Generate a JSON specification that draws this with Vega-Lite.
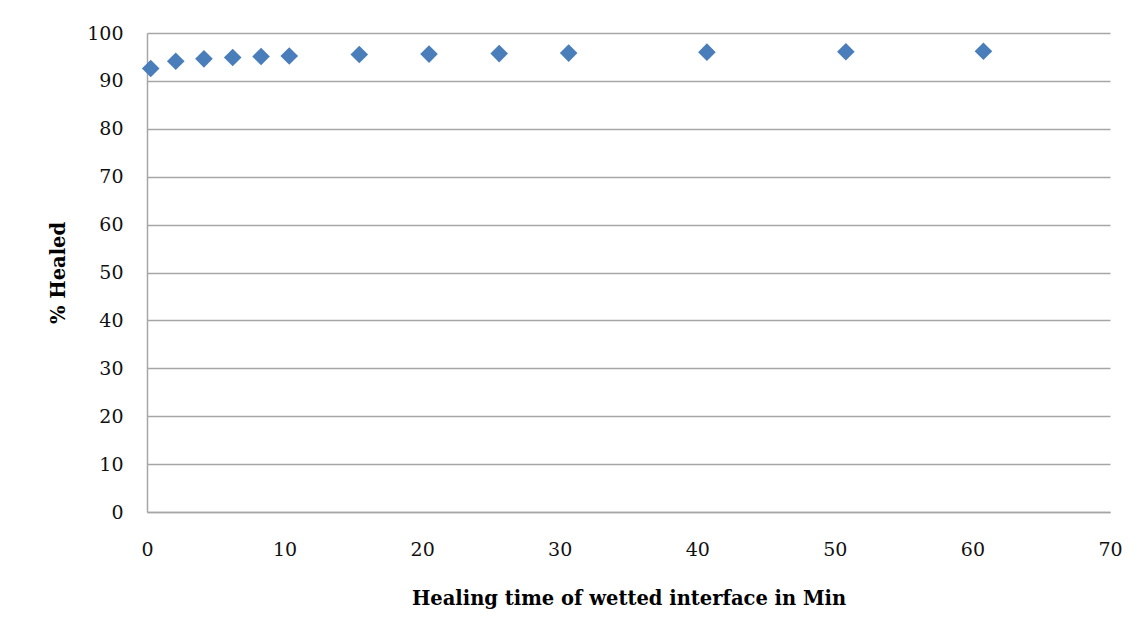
{
  "$schema": "https://vega.github.io/schema/vega-lite/v6.json",
  "width": 963,
  "height": 479,
  "autosize": "none",
  "padding": {"left": 147, "top": 33, "right": 32, "bottom": 129},
  "background": "white",
  "config": {"view": {"stroke": null}},
  "data": {
    "values": [
      {"time": 0.27, "healed": 92.6},
      {"time": 2.09, "healed": 94.1},
      {"time": 4.14, "healed": 94.6},
      {"time": 6.23, "healed": 94.9},
      {"time": 8.29, "healed": 95.1},
      {"time": 10.34, "healed": 95.2},
      {"time": 15.43, "healed": 95.5},
      {"time": 20.5, "healed": 95.6},
      {"time": 25.6, "healed": 95.7},
      {"time": 30.65, "healed": 95.8},
      {"time": 40.7, "healed": 96.0},
      {"time": 50.8, "healed": 96.1},
      {"time": 60.8, "healed": 96.2}
    ]
  },
  "mark": {"type": "point", "shape": "diamond", "filled": true, "size": 310, "color": "#4a7ebb", "opacity": 1},
  "encoding": {
    "x": {
      "field": "time",
      "type": "quantitative",
      "scale": {"domain": [0, 70], "nice": false, "zero": false},
      "axis": {
        "values": [0, 10, 20, 30, 40, 50, 60, 70],
        "title": "Healing time of wetted interface in Min",
        "grid": false,
        "ticks": false,
        "domainColor": "#a6a6a6",
        "domainWidth": 1.5,
        "labelFont": "DejaVu Serif",
        "labelFontSize": 19,
        "labelColor": "#111111",
        "labelPadding": 28,
        "labelFlush": false,
        "titleFont": "DejaVu Serif",
        "titleFontSize": 19.5,
        "titleFontWeight": "bold",
        "titleColor": "#000000",
        "titlePadding": 30
      }
    },
    "y": {
      "field": "healed",
      "type": "quantitative",
      "scale": {"domain": [0, 100], "nice": false, "zero": true},
      "axis": {
        "values": [0, 10, 20, 30, 40, 50, 60, 70, 80, 90, 100],
        "title": "% Healed",
        "grid": true,
        "gridColor": "#a6a6a6",
        "gridWidth": 1.5,
        "ticks": false,
        "domainColor": "#a6a6a6",
        "domainWidth": 1.5,
        "labelFont": "DejaVu Serif",
        "labelFontSize": 19,
        "labelColor": "#111111",
        "labelPadding": 24,
        "labelFlush": false,
        "titleFont": "DejaVu Serif",
        "titleFontSize": 19.5,
        "titleFontWeight": "bold",
        "titleColor": "#000000",
        "titlePadding": 18
      }
    }
  }
}
